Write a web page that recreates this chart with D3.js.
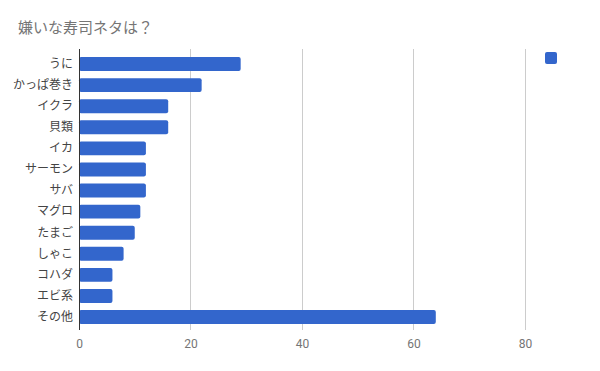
<!DOCTYPE html>
<html>
<head>
<meta charset="utf-8">
<script src="https://cdn.jsdelivr.net/npm/d3@7"></script>
<style>
  body { margin: 0; background: #fff; }
  text { font-family: Arial, "Liberation Sans", "Noto Sans CJK JP", sans-serif; }
</style>
</head>
<body>
<svg></svg>
<script>
// data
var categories = ["うに","かっぱ巻き","イクラ","貝類","イカ","サーモン","サバ","マグロ","たまご","しゃこ","コハダ","エビ系","その他"]
var counts = [29,22,16,16,12,12,12,11,10,8,6,6,64]
var xTicks = [0,20,40,60,80]

var screen = {width: 600, height: 371}
var plot = {left: 79, right: 525, top: 49, bottom: 330}

var svg = d3.select("svg")
    .attr("width", screen.width)
    .attr("height", screen.height)

var xScale = d3.scaleLinear()
    .domain([0,80])
    .range([plot.left, plot.right])

var yScale = d3.scaleBand()
    .domain(categories)
    .range([53.5, 327.6])
    .paddingInner(0.34)
    .paddingOuter(0.17)

// title
svg.append("text")
    .attr("x", 18)
    .attr("y", 33)
    .attr("font-size", 15)
    .attr("fill", "#757575")
    .text("嫌いな寿司ネタは？")

// gridlines
svg.append("g")
    .selectAll("line")
    .data(xTicks.slice(1))
    .enter()
    .append("line")
    .attr("x1", function(d){ return xScale(d) })
    .attr("x2", function(d){ return xScale(d) })
    .attr("y1", plot.top)
    .attr("y2", plot.bottom)
    .attr("stroke", "#cccccc")
    .attr("stroke-width", 1)
    .attr("shape-rendering", "crispEdges")

// bars
svg.append("g")
    .selectAll("rect")
    .data(counts)
    .enter()
    .append("rect")
    .attr("x", xScale(0))
    .attr("y", function(d, i){ return yScale(categories[i]) })
    .attr("width", function(d){ return xScale(d) - xScale(0) })
    .attr("height", yScale.bandwidth())
    .attr("rx", 2)
    .attr("fill", "#3366cc")

// category labels
var yAxis = d3.axisLeft(yScale).tickSize(0).tickPadding(6)
svg.append("g")
    .attr("transform", "translate(" + plot.left + ",0)")
    .call(yAxis)
    .call(function(g){ g.select(".domain").remove() })
    .selectAll("text")
    .attr("font-size", 12)
    .attr("fill", "#444444")
    .style("font-family", "'Noto Sans CJK JP', sans-serif")

// x tick labels
var xAxis = d3.axisBottom(xScale).tickValues(xTicks).tickSize(0).tickPadding(9)
svg.append("g")
    .attr("transform", "translate(0," + plot.bottom + ")")
    .call(xAxis)
    .call(function(g){ g.select(".domain").remove() })
    .selectAll("text")
    .attr("font-size", 12)
    .attr("fill", "#757575")
    .style("font-family", "Roboto, Arial, sans-serif")

// baseline
svg.append("line")
    .attr("x1", xScale(0))
    .attr("x2", xScale(0))
    .attr("y1", plot.top)
    .attr("y2", plot.bottom)
    .attr("stroke", "#333333")
    .attr("stroke-width", 1)
    .attr("shape-rendering", "crispEdges")

// legend swatch (no label)
svg.append("rect")
    .attr("x", 545)
    .attr("y", 52)
    .attr("width", 12)
    .attr("height", 12)
    .attr("rx", 2)
    .attr("fill", "#3366cc")
</script>
</body>
</html>
